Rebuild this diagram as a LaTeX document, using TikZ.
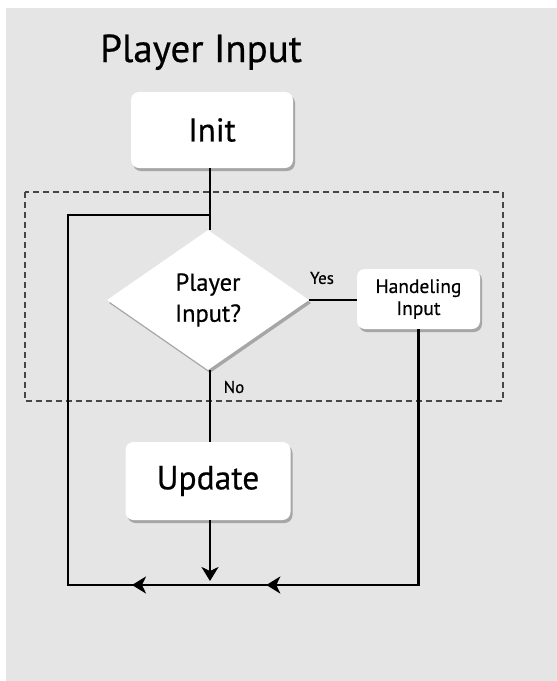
\documentclass[tikz,border=0pt]{standalone}
\usepackage{fontspec}
\setmainfont{PT Sans}[FakeBold=0.5]
\usetikzlibrary{shapes.geometric,shadows,decorations.markings,arrows.meta}
\definecolor{paper}{RGB}{229,229,229}
\definecolor{frame}{RGB}{70,70,70}
\tikzset{
  boxshadow/.style={drop shadow={shadow xshift=2pt,shadow yshift=-3pt,fill=black!55,opacity=0.55}},
  stepbox/.style={draw=none,fill=white,rounded corners=8pt,boxshadow,inner sep=0pt},
  decision/.style={diamond,draw=none,fill=white,boxshadow,inner sep=0pt,aspect=1.44,
    minimum width=202pt,minimum height=140pt,align=center},
  flow/.style={line width=2.4pt,black},
  midarrow/.style={postaction={decorate,decoration={markings,
      mark=at position #1 with {\arrow{Stealth[length=14pt,width=17pt,inset=4pt]}}}}},
  lbl/.style={font=\fontsize{17}{20}\selectfont}
}
\begin{document}
\begin{tikzpicture}[x=1pt,y=-1pt]
\useasboundingbox (0,0) rectangle (557,681);
\fill[white] (0,0) rectangle (557,681);
\fill[paper] (6,8) rectangle (557,681);

% title
\node[anchor=base west,inner sep=0pt,font=\fontsize{39}{46}\selectfont] (title) at (100,62) {Player Input};

% dashed frame around the input check
\draw[frame,line width=1.3pt,dash pattern=on 6pt off 4pt] (25,192) rectangle (503,401);

% junction points of the loop
\coordinate (join) at (210,585);
\coordinate (lb) at (68,585);
\coordinate (lt) at (68,215);
\coordinate (tj) at (210,215);

% nodes
\node[stepbox,minimum width=162pt,minimum height=76pt,font=\fontsize{33}{40}\selectfont] (init) at (212,130) {Init};
\node[decision,font=\fontsize{24.5}{31}\selectfont] (check) at (208,300) {Player\\Input?};
\node[stepbox,minimum width=123pt,minimum height=60pt,align=center,font=\fontsize{19.5}{22}\selectfont] (handle) at (418.5,299) {Handeling\\Input};
\node[stepbox,minimum width=165pt,minimum height=78pt,font=\fontsize{33.5}{40}\selectfont] (update) at (208,481) {Update};

% connectors
\draw[flow] (init.south -| tj) -- (check.north -| tj);
\draw[flow,midarrow=78pt] (join) -- (lb) -- (lt) -- (tj);
\draw[flow] (check.east) -- (check.east -| handle.west);
\draw[flow] (check.south -| tj) -- (update.north -| tj);
\draw[flow,midarrow=408pt] (handle.south) |- (join);
\draw[flow,-{Stealth[length=14pt,width=17pt,inset=4pt]}] (update.south -| join) -- ([yshift=4pt]join);

% branch labels
\node[lbl] (yes) at (322,278) {Yes};
\node[lbl] (no) at (234,387) {No};
\end{tikzpicture}
\end{document}
